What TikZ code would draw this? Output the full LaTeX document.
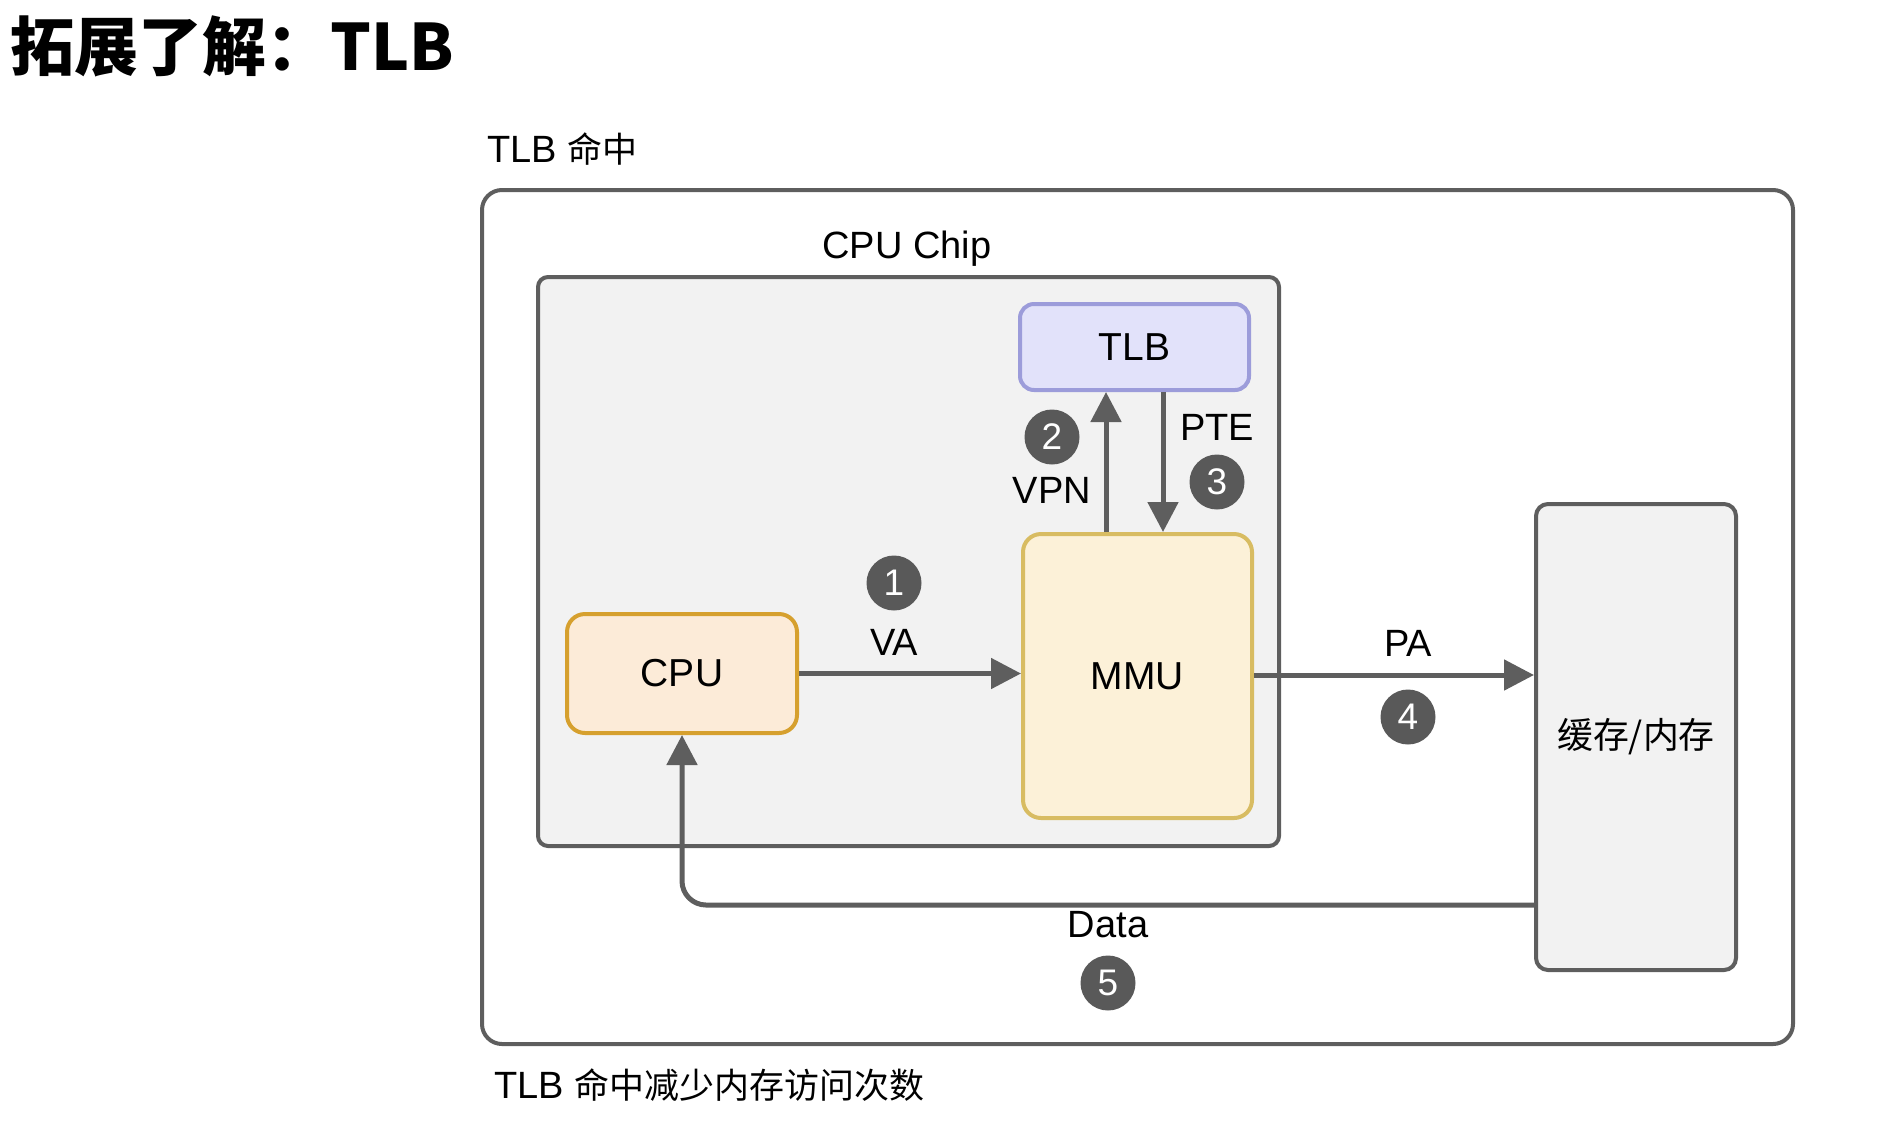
\documentclass[tikz,border=0pt]{standalone}
\usepackage{fontspec}
\setmainfont{Liberation Sans}
\newfontfamily\cjk[Scale=0.92]{Noto Sans CJK SC}
\newfontfamily\cjktitle{Noto Sans CJK SC}
\usetikzlibrary{arrows.meta,calc,positioning}
\definecolor{linegray}{HTML}{5E5E5E}
\definecolor{chipfill}{HTML}{F2F2F2}
\definecolor{tlbfill}{HTML}{E2E2FA}
\definecolor{tlbdraw}{HTML}{9C9CDA}
\definecolor{cpufill}{HTML}{FCEBD8}
\definecolor{cpudraw}{HTML}{D6A02E}
\definecolor{mmufill}{HTML}{FCF1D8}
\definecolor{mmudraw}{HTML}{D8BC62}
\definecolor{badge}{HTML}{595959}
\tikzset{
  lbl/.style={font=\fontsize{19}{22}\selectfont, inner sep=0pt, text=black},
  comp/.style={draw, line width=2pt, rounded corners=9pt, inner sep=0pt, font=\fontsize{19.5}{22}\selectfont},
  badgenode/.style={circle, fill=badge, text=white, minimum size=27.5pt, inner sep=0pt, font=\fontsize{18.5}{22}\selectfont},
  arr/.style={draw=linegray, line width=2.5pt, -{Triangle[length=15pt,width=15pt]}},
}
\begin{document}
\begin{tikzpicture}[x=0.5pt,y=-0.5pt]
\useasboundingbox (0,0) rectangle (1889,1120);
% title
\node[anchor=west, inner sep=0pt, font=\fontsize{32}{38}\selectfont\cjktitle\bfseries] (title) at (10,46) {拓展了解：TLB};
% outer box
\draw[draw=linegray, line width=2pt, rounded corners=10pt] (482,190) rectangle (1793,1044);
\node[lbl, anchor=west] (hitlabel) at (487,149) {TLB {\cjk 命中}};
\node[lbl, anchor=west] (bottomlabel) at (494,1085) {TLB {\cjk 命中减少内存访问次数}};
% chip
\draw[draw=linegray, fill=chipfill, line width=2pt, rounded corners=5pt] (538,277) rectangle (1279,846);
\node[lbl] (chiplabel) at (907,249) {CPU Chip};
% components
\node[comp, draw=tlbdraw, fill=tlbfill, minimum width=114.5pt, minimum height=43pt, rounded corners=7pt] (tlb) at (1134.5,347) {TLB};
\node[comp, draw=mmudraw, fill=mmufill, minimum width=114.5pt, minimum height=142pt] (mmu) at (1137.5,676) {MMU};
\node[comp, draw=cpudraw, fill=cpufill, minimum width=115pt, minimum height=59.5pt] (cpu) at (682,673.5) {CPU};
\node[comp, draw=linegray, fill=chipfill, minimum width=100pt, minimum height=233pt, rounded corners=6pt] (mem) at (1636,737) {\cjk 缓存/内存};
% arrows
\draw[arr] (cpu.east) -- (cpu.east -| mmu.west);
\coordinate (vpnstart) at ($(mmu.north)+(-31.5,0)$);
\coordinate (ptestart) at ($(tlb.south)+(28.5,0)$);
\draw[arr] (vpnstart) -- (vpnstart |- tlb.south);
\draw[arr] (ptestart) -- (ptestart |- mmu.north);
\coordinate (pastart) at ($(mmu.east)+(0,-1)$);
\draw[arr] (pastart) -- (pastart -| mem.west);
\coordinate (datastart) at ($(mem.south west)+(0,-67)$);
\draw[arr, rounded corners=12pt] (datastart) -| (cpu.south);
% labels
\node[lbl] (va) at (894,642) {VA};
\node[badgenode] (b1) at (894,583) {1};
\node[lbl] (vpn) at (1052,490) {VPN};
\node[badgenode] (b2) at (1052,437) {2};
\node[lbl] (pte) at (1217,427) {PTE};
\node[badgenode] (b3) at (1217,482) {3};
\node[lbl] (pa) at (1408,643) {PA};
\node[badgenode] (b4) at (1408,717) {4};
\node[lbl] (data) at (1108,925) {Data};
\node[badgenode] (b5) at (1108,983) {5};
\end{tikzpicture}
\end{document}
